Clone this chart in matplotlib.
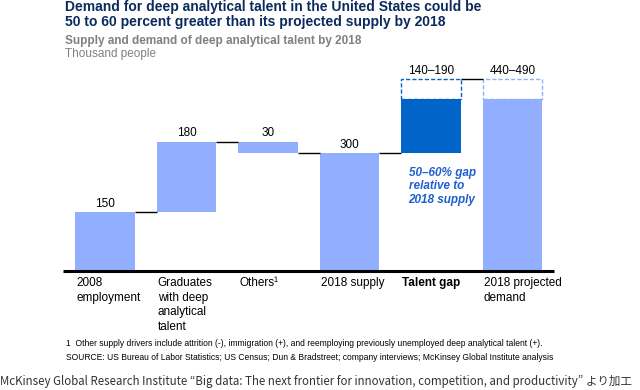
import matplotlib
matplotlib.use("Agg")
import matplotlib.pyplot as plt
from matplotlib.patches import Rectangle

# ---- data ----
categories = ["2008\nemployment", "Graduates\nwith deep\nanalytical\ntalent", "Others\u00b9",
              "2018 supply", "Talent gap", "2018 projected\ndemand"]
bar_bottoms = [0, 150, 300, 0, 300, 0]
bar_tops = [150, 330, 330, 300, 440, 440]
range_tops = [None, None, None, None, 490, 490]
value_labels = ["150", "180", "30", "300", "140\u2013190", "440\u2013490"]

LIGHT = "#91AEFF"
DARK = "#0064C8"
NAVY = "#0B2A5E"
GRAY = "#808080"

W, H = 640, 390
fig = plt.figure(figsize=(W / 100, H / 100), dpi=100)
plt.rcParams['font.family'] = ['Liberation Sans', 'DejaVu Sans']

def fx(x):
    return x / W

def fy(y):
    return 1 - y / H

# axes geometry (pixels)
base_px = 270.7
top_px = 60.0
scale = 0.3913  # px per thousand
ymax = (base_px - top_px) / scale
ax_left, ax_right = 63, 554
c0, step = 105, 81.5
xmin = (ax_left - c0) / step
xmax = (ax_right - c0) / step
ax = fig.add_axes([fx(ax_left), fy(base_px), (ax_right - ax_left) / W, (base_px - top_px) / H])
ax.set_xlim(xmin, xmax)
ax.set_ylim(0, ymax)
ax.axis("off")

bw = 0.73
colors = [LIGHT, LIGHT, LIGHT, LIGHT, DARK, LIGHT]
for i, (b, t) in enumerate(zip(bar_bottoms, bar_tops)):
    ax.bar(i, t - b, bottom=b, width=bw, color=colors[i], linewidth=0)
    if range_tops[i] is not None:
        ec = DARK if i == 4 else LIGHT
        ax.add_patch(Rectangle((i - bw / 2, t), bw, range_tops[i] - t, fill=False,
                               edgecolor=ec, linestyle=(0, (3, 1.5)), linewidth=1.0))
    lab_y = range_tops[i] if range_tops[i] is not None else max(b, t)
    ax.text(i, lab_y + 6, value_labels[i], ha="center", va="bottom", fontsize=8.5, color="black")

# connectors
conn = [(0, 150), (1, 330), (2, 300), (3, 300), (4, 490)]
for i, yv in conn:
    ax.plot([i + bw / 2, i + 1 - bw / 2], [yv, yv], color="black", lw=1.0, solid_capstyle="butt")

# baseline
ax.plot([xmin, xmax], [0, 0], color="black", lw=2.2, solid_capstyle="butt", clip_on=False)

# gap annotation
ax.text(4 - bw / 2 + 0.09, 300 - 36, "50\u201360% gap\nrelative to\n2018 supply", ha="left", va="top",
        fontsize=8.5, color="#1F5FD0", fontweight="bold", fontstyle="italic", linespacing=1.12)

# category labels
for i, lab in enumerate(categories):
    xl = c0 + i * step - bw * step / 2 + 1
    fig.text(fx(xl), fy(277), lab, ha="left", va="top", fontsize=8.5,
             fontweight="bold" if lab == "Talent gap" else "normal", linespacing=1.28)

# titles
fig.text(fx(65), fy(0), "Demand for deep analytical talent in the United States could be\n"
         "50 to 60 percent greater than its projected supply by 2018",
         ha="left", va="top", fontsize=10.0, fontweight="bold", color=NAVY, linespacing=1.12)
fig.text(fx(65), fy(35), "Supply and demand of deep analytical talent by 2018", ha="left", va="top",
         fontsize=8.5, fontweight="bold", color=GRAY)
fig.text(fx(65), fy(48), "Thousand people", ha="left", va="top", fontsize=8.5, color=GRAY)

# footnotes
fig.text(fx(66), fy(344), "1  Other supply drivers include attrition (-), immigration (+), and reemploying "
         "previously unemployed deep analytical talent (+).", ha="left", va="center",
         fontsize=6.15)
fig.text(fx(66), fy(357), "SOURCE: US Bureau of Labor Statistics; US Census; Dun & Bradstreet; company "
         "interviews; McKinsey Global Institute analysis", ha="left", va="center",
         fontsize=6.15)

fig.text(fx(0), fy(381), "McKinsey Global Research Institute \u201cBig data: The next frontier for innovation, "
         "competition, and productivity\u201d より加工", ha="left", va="center", fontsize=8.3,
         color="#333333", family=['Noto Sans CJK JP', 'DejaVu Sans'])

fig.savefig("out.png", dpi=100)
